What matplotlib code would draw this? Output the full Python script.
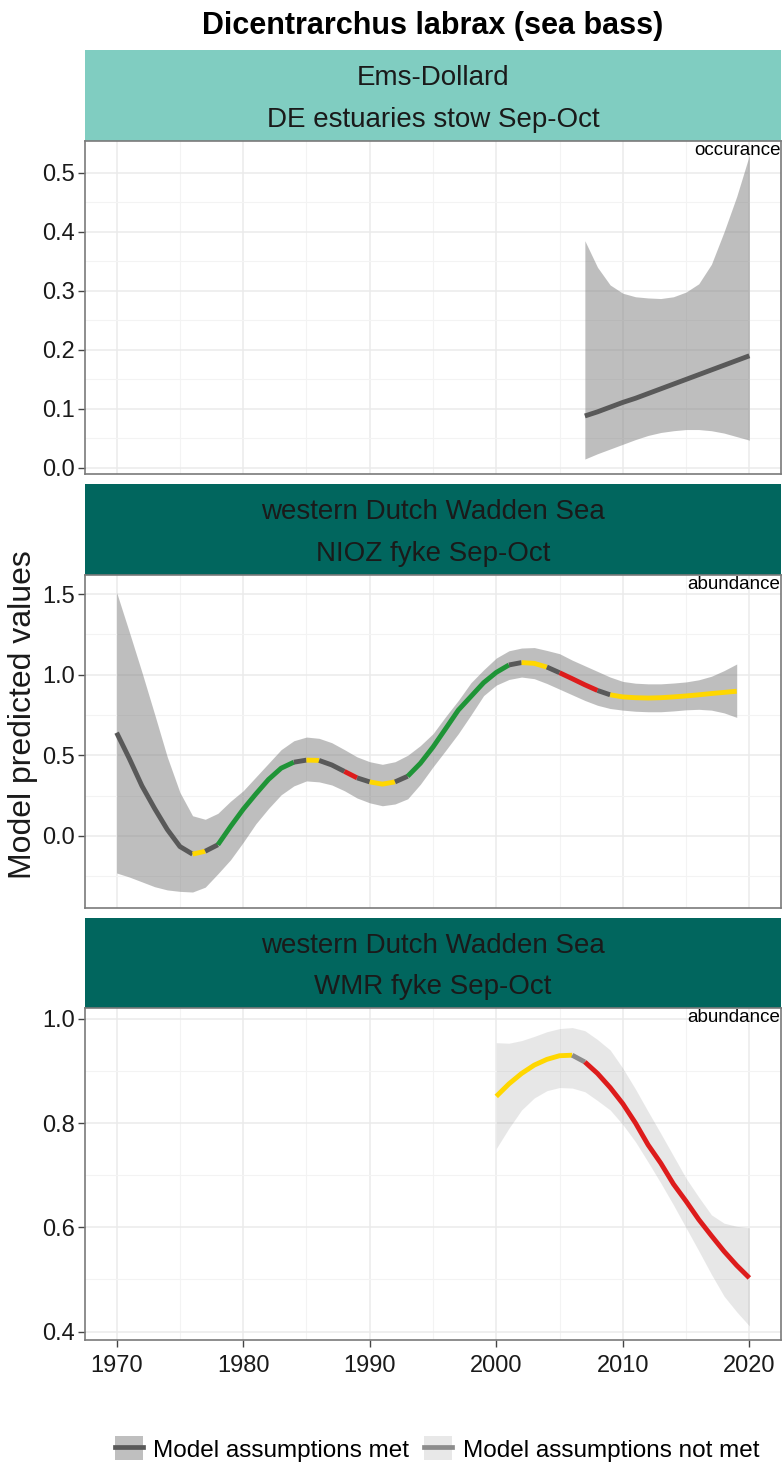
import matplotlib
matplotlib.use('Agg')
import matplotlib.pyplot as plt
from matplotlib.lines import Line2D
from matplotlib.patches import Patch
import numpy as np

plt.rcParams['font.family'] = ['Liberation Sans', 'DejaVu Sans']

title = 'Dicentrarchus labrax (sea bass)'
y_label = 'Model predicted values'
legend_labels = ['Model assumptions met', 'Model assumptions not met']

# panel 1: Ems-Dollard, DE estuaries stow (occurance, assumptions met)
p1_strip = ['Ems-Dollard', 'DE estuaries stow Sep-Oct']
p1_type = 'occurance'
p1_years = np.arange(2007, 2021)
p1_fit = [0.088, 0.095, 0.103, 0.111, 0.118, 0.126, 0.134, 0.142, 0.150, 0.158, 0.166, 0.174, 0.182, 0.190]
p1_upper = [0.385, 0.340, 0.310, 0.296, 0.290, 0.288, 0.287, 0.290, 0.298, 0.312, 0.345, 0.400, 0.460, 0.530]
p1_lower = [0.015, 0.024, 0.032, 0.040, 0.048, 0.055, 0.060, 0.063, 0.065, 0.065, 0.063, 0.059, 0.053, 0.047]
p1_breaks = [2007, 2020]
p1_colors = ['grey']

# panel 2: western Dutch Wadden Sea, NIOZ fyke (abundance, assumptions met)
p2_strip = ['western Dutch Wadden Sea', 'NIOZ fyke Sep-Oct']
p2_type = 'abundance'
p2_years = np.arange(1970, 2020)
p2_fit = [0.640, 0.480, 0.310, 0.170, 0.040, -0.066, -0.113, -0.095, -0.055, 0.058,
          0.165, 0.260, 0.350, 0.420, 0.457, 0.470, 0.468, 0.440, 0.400, 0.360,
          0.335, 0.321, 0.335, 0.370, 0.450, 0.551, 0.665, 0.780, 0.865, 0.950,
          1.014, 1.060, 1.075, 1.070, 1.047, 1.012, 0.975, 0.937, 0.902, 0.875,
          0.862, 0.857, 0.855, 0.857, 0.862, 0.868, 0.875, 0.883, 0.890, 0.897]
p2_upper = [1.510, 1.265, 1.015, 0.755, 0.490, 0.270, 0.125, 0.103, 0.140, 0.215,
            0.280, 0.365, 0.450, 0.535, 0.590, 0.613, 0.605, 0.578, 0.535, 0.490,
            0.460, 0.444, 0.460, 0.500, 0.560, 0.634, 0.740, 0.840, 0.950, 1.030,
            1.103, 1.148, 1.165, 1.168, 1.150, 1.130, 1.090, 1.055, 1.020, 0.985,
            0.958, 0.947, 0.943, 0.943, 0.948, 0.955, 0.968, 0.990, 1.025, 1.066]
p2_lower = [-0.230, -0.255, -0.285, -0.315, -0.335, -0.344, -0.348, -0.318, -0.235, -0.148,
            -0.040, 0.075, 0.170, 0.255, 0.310, 0.341, 0.335, 0.316, 0.280, 0.235,
            0.205, 0.187, 0.198, 0.230, 0.320, 0.428, 0.530, 0.634, 0.750, 0.870,
            0.935, 0.970, 0.985, 0.975, 0.945, 0.910, 0.875, 0.840, 0.810, 0.790,
            0.780, 0.773, 0.770, 0.770, 0.775, 0.782, 0.785, 0.780, 0.763, 0.735]
p2_breaks = [1970, 1976, 1977, 1978, 1984, 1985, 1986, 1988, 1989, 1990, 1992, 1993,
             2001, 2002, 2004, 2005, 2008, 2009, 2019]
p2_colors = ['grey', 'yellow', 'grey', 'green', 'grey', 'yellow', 'grey', 'red', 'grey',
             'yellow', 'grey', 'green', 'grey', 'yellow', 'grey', 'red', 'grey', 'yellow']

# panel 3: western Dutch Wadden Sea, WMR fyke (abundance, assumptions not met)
p3_strip = ['western Dutch Wadden Sea', 'WMR fyke Sep-Oct']
p3_type = 'abundance'
p3_years = np.arange(2000, 2021)
p3_fit = [0.851, 0.875, 0.895, 0.911, 0.922, 0.929, 0.930, 0.917, 0.895, 0.868,
          0.837, 0.800, 0.758, 0.723, 0.683, 0.650, 0.615, 0.584, 0.554, 0.527, 0.503]
p3_upper = [0.954, 0.953, 0.958, 0.966, 0.975, 0.981, 0.983, 0.977, 0.960, 0.940,
            0.905, 0.865, 0.822, 0.780, 0.737, 0.694, 0.658, 0.624, 0.608, 0.602, 0.599]
p3_lower = [0.751, 0.790, 0.825, 0.848, 0.862, 0.868, 0.867, 0.860, 0.843, 0.825,
            0.797, 0.764, 0.725, 0.685, 0.643, 0.599, 0.555, 0.510, 0.468, 0.438, 0.411]
p3_breaks = [2000, 2006, 2007, 2020]
p3_colors = ['yellow', 'greylight', 'red']

x_ticks = [1970, 1980, 1990, 2000, 2010, 2020]
x_minor = [1975, 1985, 1995, 2005, 2015]

colors = {'grey': '#595959', 'greylight': '#8C8C8C', 'yellow': '#FFD700',
          'green': '#1F9437', 'red': '#DD1C1C'}
strip_light = '#80CDC1'
strip_dark = '#01665E'

W, H = 782, 1463


def fbox(x0, y0, x1, y1):
    return [x0 / W, 1 - y1 / H, (x1 - x0) / W, (y1 - y0) / H]


fig = plt.figure(figsize=(W / 100, H / 100), dpi=100)

panels = [
    dict(strip=p1_strip, kind=p1_type, years=p1_years, fit=p1_fit, up=p1_upper, lo=p1_lower,
         breaks=p1_breaks, cols=p1_colors, met=True, fill=strip_light,
         sbox=(85, 50, 781, 141), pbox=(85, 141, 781, 473.5), ylim=(-0.0095, 0.554),
         yt=[0.0, 0.1, 0.2, 0.3, 0.4, 0.5], ym=[0.05, 0.15, 0.25, 0.35, 0.45], fmt='%.1f'),
    dict(strip=p2_strip, kind=p2_type, years=p2_years, fit=p2_fit, up=p2_upper, lo=p2_lower,
         breaks=p2_breaks, cols=p2_colors, met=True, fill=strip_dark,
         sbox=(85, 484, 781, 575), pbox=(85, 575, 781, 907.5), ylim=(-0.444, 1.618),
         yt=[0.0, 0.5, 1.0, 1.5], ym=[-0.25, 0.25, 0.75, 1.25], fmt='%.1f'),
    dict(strip=p3_strip, kind=p3_type, years=p3_years, fit=p3_fit, up=p3_upper, lo=p3_lower,
         breaks=p3_breaks, cols=p3_colors, met=False, fill=strip_dark,
         sbox=(85, 918, 781, 1008), pbox=(85, 1008, 781, 1340), ylim=(0.384, 1.0205),
         yt=[0.4, 0.6, 0.8, 1.0], ym=[0.5, 0.7, 0.9], fmt='%.1f'),
]

for i, p in enumerate(panels):
    # strip
    sax = fig.add_axes(fbox(*p['sbox']))
    sax.set_facecolor(p['fill'])
    sax.set_xticks([])
    sax.set_yticks([])
    for s in sax.spines.values():
        s.set_visible(False)
    sax.text(0.5, 0.615, p['strip'][0], ha='center', va='baseline', fontsize=20,
             color='#1A1A1A', transform=sax.transAxes)
    sax.text(0.5, 0.157, p['strip'][1], ha='center', va='baseline', fontsize=20,
             color='#1A1A1A', transform=sax.transAxes)

    ax = fig.add_axes(fbox(*p['pbox']))
    ax.set_xlim(1967.5, 2022.5)
    ax.set_ylim(*p['ylim'])
    ax.set_xticks(x_ticks)
    ax.set_xticks(x_minor, minor=True)
    ax.set_yticks(p['yt'])
    ax.set_yticks(p['ym'], minor=True)
    ax.set_yticklabels([p['fmt'] % v for v in p['yt']])
    ax.set_axisbelow(True)
    ax.grid(which='major', color='#EBEBEB', lw=1.1)
    ax.grid(which='minor', color='#F3F3F3', lw=0.8)
    ax.tick_params(which='major', labelsize=17, length=5, width=1, color='#444444',
                   labelcolor='#1A1A1A', pad=2)
    ax.tick_params(which='minor', length=0)
    ax.tick_params(axis='x', pad=6)
    if i < 2:
        ax.tick_params(axis='x', which='both', bottom=False, labelbottom=False)
    for s in ax.spines.values():
        s.set_color('#7A7A7A')
        s.set_linewidth(1.2)

    alpha = 0.5 if p['met'] else 0.18
    ax.fill_between(p['years'], p['lo'], p['up'], color='#7F7F7F', alpha=alpha, lw=0)

    yrs = list(p['years'])
    for k, c in enumerate(p['cols']):
        a = yrs.index(p['breaks'][k])
        b = yrs.index(p['breaks'][k + 1])
        ax.plot(p['years'][a:b + 1], p['fit'][a:b + 1], color=colors[c], lw=3.5,
                solid_capstyle='butt', solid_joinstyle='round')

    ax.text(0.999, 0.996, p['kind'], ha='right', va='top', fontsize=13.5,
            color='black', transform=ax.transAxes)

fig.text(433 / W, 1 - 34 / H, title, ha='center', va='baseline', fontsize=22,
         fontweight='bold')
fig.text(23 / W, 1 - 715 / H, y_label, rotation=90, ha='center', va='center',
         fontsize=23, color='#1A1A1A')

handles = [(Patch(facecolor='#BFBFBF'), Line2D([], [], color=colors['grey'], lw=3.4)),
           (Patch(facecolor='#E8E8E8'), Line2D([], [], color=colors['greylight'], lw=3.4))]
fig.legend(handles=handles, labels=legend_labels, loc='center',
           bbox_to_anchor=(437 / W, 1 - 1449 / H), ncol=2, frameon=False,
           fontsize=17.5, handlelength=1.14, handleheight=1.15, handletextpad=0.44,
           columnspacing=0.62, borderpad=0, borderaxespad=0)

fig.savefig('out.png', dpi=100)
